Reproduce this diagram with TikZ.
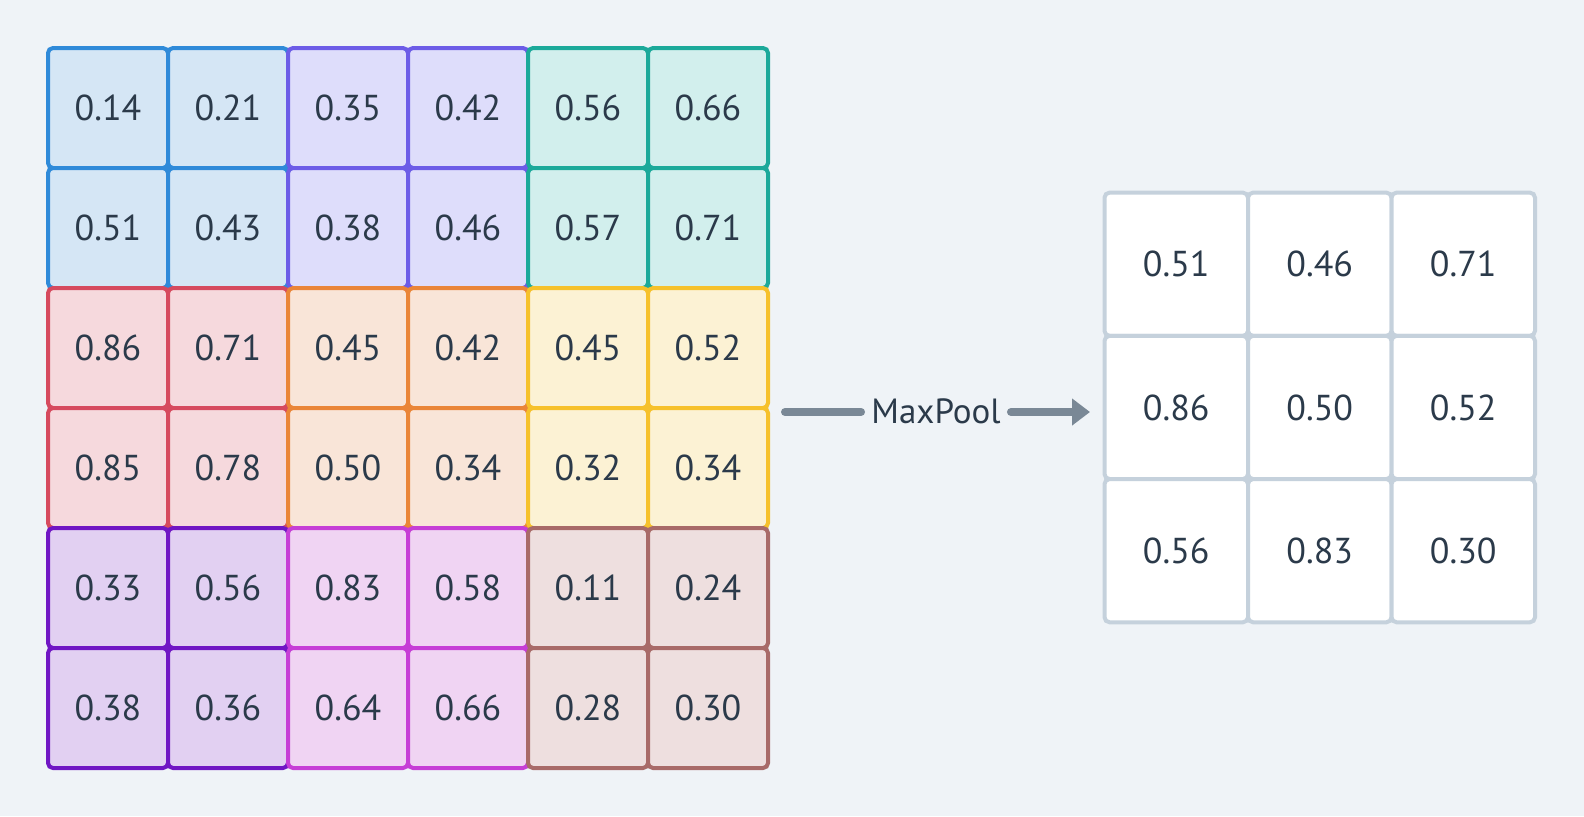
\documentclass[tikz,border=0pt]{standalone}
\usepackage{fontspec}
\setmainfont{PT Sans}
\usetikzlibrary{arrows.meta}

\definecolor{bgcol}{HTML}{EFF3F7}
\definecolor{txtcol}{HTML}{2B3A4A}
\definecolor{arrcol}{HTML}{7A8896}
\definecolor{outline}{HTML}{C5D1DC}
% pooling windows: border and fill
\definecolor{ln0}{HTML}{2F8AD9}\definecolor{fi0}{HTML}{D5E6F5}
\definecolor{ln1}{HTML}{6C5CE7}\definecolor{fi1}{HTML}{DEDDFB}
\definecolor{ln2}{HTML}{1BA99A}\definecolor{fi2}{HTML}{D2EFED}
\definecolor{ln3}{HTML}{D64A5E}\definecolor{fi3}{HTML}{F6D9DD}
\definecolor{ln4}{HTML}{EA8538}\definecolor{fi4}{HTML}{F9E5D8}
\definecolor{ln5}{HTML}{F6C12B}\definecolor{fi5}{HTML}{FCF2D4}
\definecolor{ln6}{HTML}{7016C4}\definecolor{fi6}{HTML}{E2D0F2}
\definecolor{ln7}{HTML}{C63ED6}\definecolor{fi7}{HTML}{F0D4F3}
\definecolor{ln8}{HTML}{A86A68}\definecolor{fi8}{HTML}{EEDFDF}

\begin{document}
\begin{tikzpicture}[%
    x=0.5pt,
    y=-0.5pt,
    cell/.style={rectangle, rounded corners=2.5pt, line width=2pt,
      minimum size=60pt, inner sep=0pt, outer sep=0pt,
      text=txtcol, font=\fontsize{18}{20}\selectfont},
    outcell/.style={cell, draw=outline, fill=white,
      minimum width=71.75pt, minimum height=71.6pt},
    pool/.style={line width=4pt, line cap=round, draw=arrcol}
  ]

  \fill[bgcol] (0,0) rectangle (1584,816);
  \useasboundingbox (0,0) rectangle (1584,816);

  % input 6x6
  \foreach \row [count=\r from 0] in
    {{0.14,0.21,0.35,0.42,0.56,0.66},
     {0.51,0.43,0.38,0.46,0.57,0.71},
     {0.86,0.71,0.45,0.42,0.45,0.52},
     {0.85,0.78,0.50,0.34,0.32,0.34},
     {0.33,0.56,0.83,0.58,0.11,0.24},
     {0.38,0.36,0.64,0.66,0.28,0.30}}
  {
    \foreach \v [count=\c from 0] in \row {
      \pgfmathtruncatemacro\blk{3*div(\r,2)+div(\c,2)}
      \node[cell, draw=ln\blk, fill=fi\blk] (in-\r-\c)
        at ({108+120*\c},{108+120*\r}) {\v};
    }
  }

  % output 3x3
  \foreach \row [count=\r from 0] in
    {{0.51,0.46,0.71},
     {0.86,0.50,0.52},
     {0.56,0.83,0.30}}
  {
    \foreach \v [count=\c from 0] in \row {
      \node[outcell] (out-\r-\c)
        at ({1176.25+143.5*\c},{264.25+143.2*\r}) {\v};
    }
  }

  \coordinate (from) at (785,412);
  \coordinate (to) at (1090,412);
  \node[text=txtcol, font=\fontsize{17.5}{20}\selectfont, inner sep=5pt]
    (mp) at (936,411) {MaxPool};

  \draw[pool] (from) -- (mp.west |- from);
  \draw[pool, -{Triangle[length=9pt,width=13pt]}] (mp.east |- to) -- (to);

\end{tikzpicture}
\end{document}
